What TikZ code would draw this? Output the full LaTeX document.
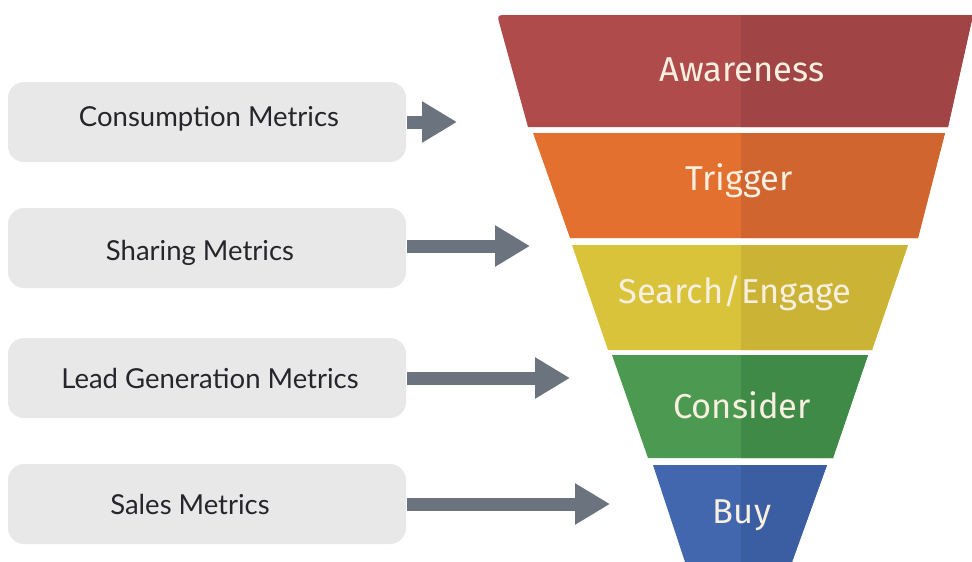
\documentclass[tikz,border=0pt]{standalone}
\usepackage{fontspec}
\setmainfont{Lato}
\newfontfamily\stagefont{Fira Sans}
\usetikzlibrary{arrows.meta}

% funnel colours: lighter left half, darker right half
\definecolor{awareL}{HTML}{B04B4B}
\definecolor{awareR}{HTML}{A04445}
\definecolor{trigL}{HTML}{E3702F}
\definecolor{trigR}{HTML}{D06530}
\definecolor{searchL}{HTML}{D9C33A}
\definecolor{searchR}{HTML}{CBB336}
\definecolor{consL}{HTML}{4C9A52}
\definecolor{consR}{HTML}{3F8A47}
\definecolor{buyL}{HTML}{4367AF}
\definecolor{buyR}{HTML}{3B5EA2}
\definecolor{stagetext}{HTML}{F7EFDF}
\definecolor{boxfill}{HTML}{E8E8E8}
\definecolor{boxtext}{HTML}{25262B}
\definecolor{arrowgray}{HTML}{6B737E}

\tikzset{
  metricbox/.style={fill=boxfill, rounded corners=16pt},
  metriclabel/.style={text=boxtext, font=\fontsize{27.5}{32}\selectfont, inner sep=0pt},
  stagelabel/.style={text=stagetext, font=\stagefont\fontsize{34.5}{40}\selectfont, inner sep=0pt},
  bigarrow/.style={draw=arrowgray, line width=13pt,
    -{Triangle[length=35pt, width=39pt]}, shorten >=0pt},
}

\begin{document}
\begin{tikzpicture}[x=1pt, y=-1pt]
\useasboundingbox (0,0) rectangle (972,562);

% ---- funnel bands ----
\newcommand{\band}[3]{%
  \fill[#1] #3;
  \begin{scope}
    \clip (741,0) rectangle (980,570);
    \fill[#2] #3;
  \end{scope}}

\band{awareL}{awareR}{(528,127) -- (499.7,24.6) .. controls (497,15) .. (507,15) -- (973,15) -- (948,127) -- cycle}
\band{trigL}{trigR}{(533,133) -- (945,133) -- (918,238) -- (570,238) -- cycle}
\band{searchL}{searchR}{(572,245) -- (908,245) -- (872,350) -- (608,350) -- cycle}
\band{consL}{consR}{(612,355) -- (868,355) -- (833,458) -- (648,458) -- cycle}
\band{buyL}{buyR}{(653,465) -- (827,465) -- (792,562) -- (685,562) -- cycle}

\node[stagelabel] (awareness) at (742,70) {Awareness};
\node[stagelabel] (trigger) at (739,181) {Trigger};
\node[stagelabel] (search) at (735,293) {Search/Engage};
\node[stagelabel] (consider) at (742,405) {Consider};
\node[stagelabel] (buy) at (742,515) {Buy};

% ---- metric boxes ----
\fill[metricbox] (8,82) rectangle (406,162);
\fill[metricbox] (8,208) rectangle (406,288);
\fill[metricbox] (8,338) rectangle (406,418);
\fill[metricbox] (8,464) rectangle (406,544);

\node[metriclabel] (consumption) at (209,119) {Consumption Metrics};
\node[metriclabel] (sharing) at (200,253) {Sharing Metrics};
\node[metriclabel] (lead) at (210,378) {Lead Generation Metrics};
\node[metriclabel] (sales) at (190,504) {Sales Metrics};

% ---- arrows toward the funnel ----
\coordinate (a1s) at (407,122);  \coordinate (a1e) at (457,122);
\coordinate (a2s) at (407,246);  \coordinate (a2e) at (530,246);
\coordinate (a3s) at (407,378);  \coordinate (a3e) at (570,378);
\coordinate (a4s) at (407,504);  \coordinate (a4e) at (610,504);
\draw[bigarrow] (a1s) -- (a1e);
\draw[bigarrow] (a2s) -- (a2e);
\draw[bigarrow] (a3s) -- (a3e);
\draw[bigarrow] (a4s) -- (a4e);
\end{tikzpicture}
\end{document}
